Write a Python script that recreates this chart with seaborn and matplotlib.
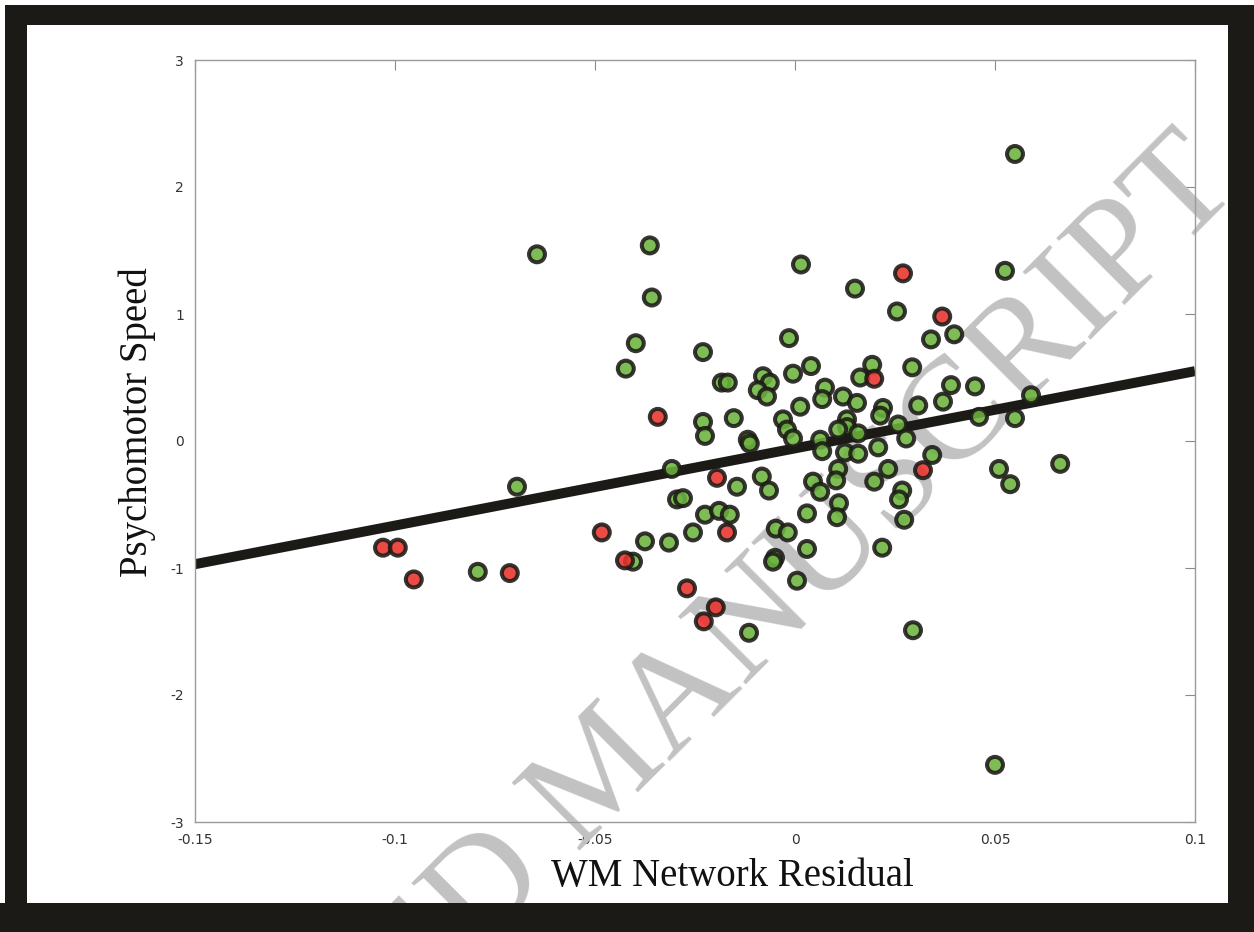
import pandas as pd
import seaborn as sns
import matplotlib.pyplot as plt
from matplotlib.patches import Rectangle

# points (x = WM network residual, y = psychomotor speed)
green_x = [
    -0.0645, -0.0695, -0.0793, -0.0363, -0.0358, -0.0398, -0.0423, -0.0230, 0.0015, 0.0150,
    0.0255, 0.0550, 0.0525, 0.0340, 0.0398, -0.0015, 0.0040, -0.0005, -0.0183, -0.0168,
    -0.0080, -0.0063, -0.0093, -0.0070, 0.0075, 0.0068, 0.0013, -0.0230, -0.0225, -0.0153,
    -0.0030, -0.0020, -0.0005, -0.0118, -0.0113, 0.0063, 0.0068, 0.0193, 0.0163, 0.0293,
    0.0390, 0.0450, 0.0120, 0.0155, 0.0220, 0.0213, 0.0308, 0.0370, 0.0590, 0.0460,
    0.0550, 0.0130, 0.0130, 0.0108, 0.0158, 0.0258, 0.0278, 0.0343, 0.0208, 0.0125,
    0.0158, 0.0663, 0.0510, 0.0538, 0.0233, 0.0198, 0.0108, 0.0103, 0.0268, 0.0260,
    0.0110, 0.0105, 0.0273, 0.0218, 0.0295, 0.0500, -0.0308, -0.0145, -0.0083, -0.0065,
    0.0045, 0.0063, -0.0295, -0.0280, -0.0225, -0.0190, -0.0163, -0.0255, -0.0375, -0.0315,
    -0.0405, 0.0030, -0.0048, -0.0018, 0.0030, -0.0050, -0.0055, 0.0005, -0.0115,
]
green_y = [
    1.47, -0.36, -1.03, 1.54, 1.13, 0.77, 0.57, 0.70, 1.39, 1.20,
    1.02, 2.26, 1.34, 0.80, 0.84, 0.81, 0.59, 0.53, 0.46, 0.46,
    0.51, 0.46, 0.40, 0.35, 0.42, 0.33, 0.27, 0.15, 0.04, 0.18,
    0.17, 0.09, 0.02, 0.01, -0.02, 0.01, -0.08, 0.60, 0.50, 0.58,
    0.44, 0.43, 0.35, 0.30, 0.26, 0.20, 0.28, 0.31, 0.36, 0.19,
    0.18, 0.17, 0.11, 0.09, 0.06, 0.13, 0.02, -0.11, -0.05, -0.09,
    -0.10, -0.18, -0.22, -0.34, -0.22, -0.32, -0.22, -0.31, -0.39, -0.46,
    -0.49, -0.60, -0.62, -0.84, -1.49, -2.55, -0.22, -0.36, -0.28, -0.39,
    -0.32, -0.40, -0.46, -0.45, -0.58, -0.55, -0.58, -0.72, -0.79, -0.80,
    -0.95, -0.57, -0.69, -0.72, -0.85, -0.92, -0.95, -1.10, -1.51,
]
red_x = [
    -0.1030, -0.0993, -0.0953, -0.0713, -0.0483, -0.0425, -0.0343, -0.0270,
    -0.0198, -0.0228, -0.0195, -0.0170, 0.0270, 0.0368, 0.0198, 0.0320,
]
red_y = [
    -0.84, -0.84, -1.09, -1.04, -0.72, -0.94, 0.19, -1.16,
    -1.31, -1.42, -0.29, -0.72, 1.32, 0.98, 0.49, -0.23,
]

fit_x = [-0.15, 0.1]
fit_y = [-0.97, 0.55]

x_ticks = [-0.15, -0.1, -0.05, 0, 0.05, 0.1]
x_tick_labels = ['-0.15', '-0.1', '-0.05', '0', '0.05', '0.1']
y_ticks = [-3, -2, -1, 0, 1, 2, 3]
y_tick_labels = ['-3', '-2', '-1', '0', '1', '2', '3']

df = pd.concat([
    pd.DataFrame({'residual': green_x, 'speed': green_y, 'group': 'group 1'}),
    pd.DataFrame({'residual': red_x, 'speed': red_y, 'group': 'group 2'}),
], ignore_index=True)

sns.set_style('white')
plt.rcParams['font.family'] = ['DejaVu Sans']

ink = '#1c1a17'
fig = plt.figure(figsize=(12.54, 9.32), dpi=100, facecolor='white')
ax = fig.add_axes([195 / 1254, 1 - 822 / 932, 1000 / 1254, 762 / 932])

sns.lineplot(x=fit_x, y=fit_y, color=ink, linewidth=7.2, ax=ax, zorder=2,
             solid_capstyle='butt')
sns.scatterplot(data=df, x='residual', y='speed', hue='group',
                palette={'group 1': '#6cb33e', 'group 2': '#e8322a'},
                s=132, edgecolor=ink, linewidth=2.9, alpha=0.88,
                legend=False, ax=ax, zorder=3)

ax.set_xlim(-0.15, 0.1)
ax.set_ylim(-3, 3)
ax.set_xticks(x_ticks)
ax.set_xticklabels(x_tick_labels)
ax.set_yticks(y_ticks)
ax.set_yticklabels(y_tick_labels)
ax.set_xlabel('')
ax.set_ylabel('')
ax.tick_params(direction='in', length=7, width=0.8, color='#8a8a8a',
               top=True, right=True, labelsize=10, labelcolor='#333333', pad=8)
for sp in ax.spines.values():
    sp.set_color('#9a9a9a')
    sp.set_linewidth(1.0)

fig.text(732 / 1254, 1 - 886 / 932, 'WM Network Residual', ha='center',
         va='baseline', fontsize=28, family='Liberation Serif', color='#111111')
fig.text(137 / 1254, 1 - 422 / 932, 'Psychomotor Speed', ha='center', va='center',
         rotation=90, fontsize=28, family='Liberation Serif', color='#111111')

# diagonal watermark
ax.text(1242 / 1254, 1 - 188 / 932, 'ACCEPTED MANUSCRIPT', transform=fig.transFigure,
        rotation=45, rotation_mode='anchor', ha='right', va='baseline',
        fontsize=105, family='Liberation Serif', color='#c2c2c2',
        clip_on=False, zorder=1.6)

# black photo frame around the page
W, H = 1254, 932
for x0, y0, w, h in [(5, 5, W - 5, 20), (5, 5, 22, H - 5), (1228, 5, W - 1228, H - 5),
                     (0, 903, W, H - 903)]:
    fig.patches.append(Rectangle((x0 / W, 1 - (y0 + h) / H), w / W, h / H,
                                 transform=fig.transFigure, facecolor=ink,
                                 edgecolor='none', zorder=10))

fig.savefig('out.png', dpi=100, facecolor='white')
